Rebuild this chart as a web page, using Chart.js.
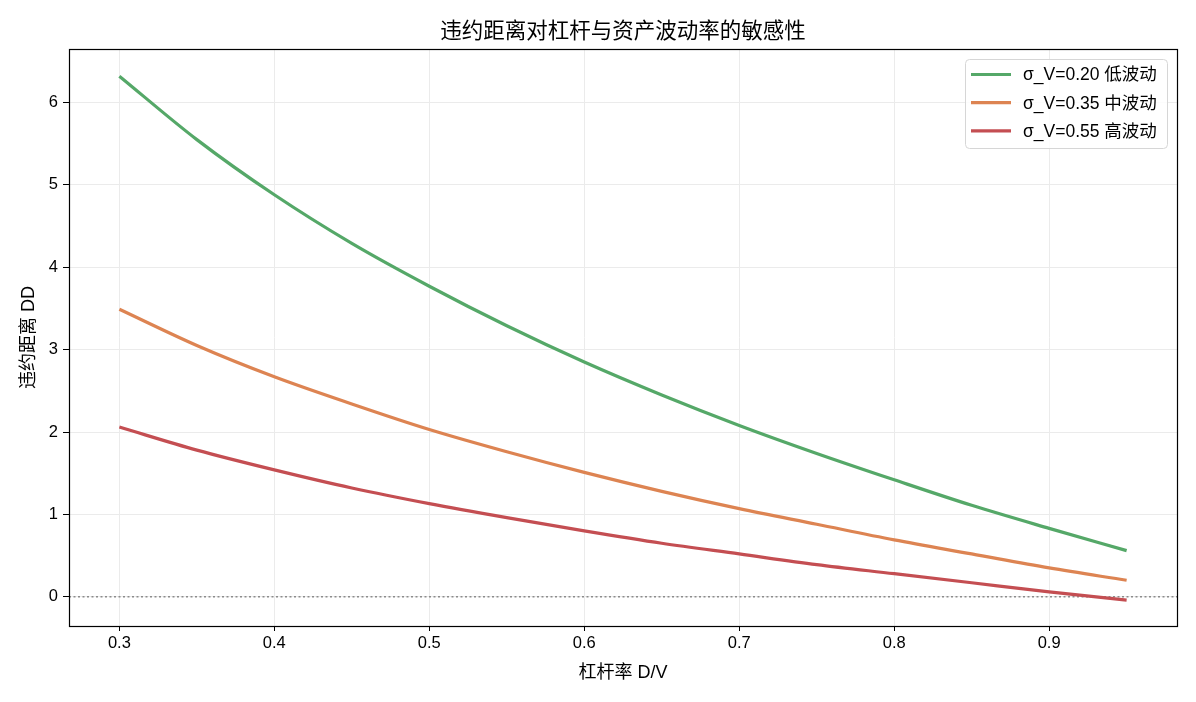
<!DOCTYPE html>
<html>
<head>
<meta charset="utf-8">
<script src="https://cdn.jsdelivr.net/npm/chart.js@4"></script>
<style>
  html, body { margin: 0; padding: 0; background: #fff; }
  #wrap { width: 1196px; height: 702px; }
</style>
</head>
<body>
<div id="wrap"><canvas id="ddChart"></canvas></div>
<script>
// data
const leverage = [0.30, 0.35, 0.40, 0.45, 0.50, 0.55, 0.60, 0.65, 0.70, 0.75, 0.80, 0.85, 0.90, 0.95];
const ddLow  = [6.32, 5.55, 4.88, 4.29, 3.77, 3.29, 2.85, 2.45, 2.08, 1.74, 1.42, 1.11, 0.83, 0.56];
const ddMid  = [3.49, 3.05, 2.67, 2.34, 2.03, 1.76, 1.51, 1.28, 1.07, 0.88, 0.69, 0.52, 0.35, 0.20];
const ddHigh = [2.06, 1.78, 1.54, 1.32, 1.13, 0.96, 0.80, 0.65, 0.52, 0.39, 0.28, 0.17, 0.06, -0.04];
const seriesLabels = ['σ_V=0.20 低波动', 'σ_V=0.35 中波动', 'σ_V=0.55 高波动'];
const seriesColors = ['#55a868', '#dd8452', '#c44e52'];
const xTicks = [0.3, 0.4, 0.5, 0.6, 0.7, 0.8, 0.9];
const yTicks = [0, 1, 2, 3, 4, 5, 6];
const titleText = '违约距离对杠杆与资产波动率的敏感性';
const xTitle = '杠杆率 D/V';
const yTitle = '违约距离 DD';

const FONT = '"Liberation Sans", Arial, "Noto Sans CJK SC", sans-serif';

const toPoints = vals => vals.map((v, i) => ({ x: leverage[i], y: v }));

const frame = {
    id: 'frame',
    beforeDatasetsDraw(chart) {
        const { ctx, chartArea: a, scales } = chart;
        const y0 = scales.y.getPixelForValue(0);
        ctx.save();
        ctx.strokeStyle = '#8c8c8c';
        ctx.lineWidth = 1.3;
        ctx.setLineDash([2, 2.5]);
        ctx.beginPath();
        ctx.moveTo(a.left, y0);
        ctx.lineTo(a.right, y0);
        ctx.stroke();
        ctx.restore();
    },
    afterDraw(chart) {
        const { ctx, chartArea: a } = chart;
        ctx.save();
        // axes box
        ctx.strokeStyle = '#000';
        ctx.lineWidth = 1.2;
        ctx.strokeRect(a.left + 0.5, a.top + 0.5, a.right - a.left, a.bottom - a.top);

        // title
        ctx.fillStyle = '#000';
        ctx.font = '21.5px ' + FONT;
        ctx.textAlign = 'center';
        ctx.textBaseline = 'middle';
        ctx.fillText(titleText, (a.left + a.right) / 2, 32);

        // legend inside the plot, upper right
        ctx.font = '17.5px ' + FONT;
        const lw = 202, lh = 89;
        const lx = a.right - 10 - lw, ly = a.top + 10;
        ctx.fillStyle = 'rgba(255,255,255,0.85)';
        ctx.strokeStyle = '#d6d6d6';
        ctx.lineWidth = 1;
        ctx.beginPath();
        ctx.roundRect(lx + 0.5, ly + 0.5, lw, lh, 4);
        ctx.fill();
        ctx.stroke();
        chart.data.datasets.forEach((ds, i) => {
            const cy = ly + 15.5 + i * 28.2;
            ctx.strokeStyle = ds.borderColor;
            ctx.lineWidth = 3.2;
            ctx.beginPath();
            ctx.moveTo(lx + 6, cy);
            ctx.lineTo(lx + 46, cy);
            ctx.stroke();
            ctx.fillStyle = '#000';
            ctx.textAlign = 'left';
            ctx.fillText(ds.label, lx + 58, cy + 1);
        });
        ctx.restore();
    }
};

new Chart(document.getElementById('ddChart'), {
    type: 'line',
    data: {
        datasets: [ddLow, ddMid, ddHigh].map((vals, i) => ({
            label: seriesLabels[i],
            data: toPoints(vals),
            borderColor: seriesColors[i],
            backgroundColor: seriesColors[i],
            borderWidth: 3.2,
            pointRadius: 0,
            cubicInterpolationMode: 'monotone',
            fill: false
        }))
    },
    options: {
        responsive: true,
        maintainAspectRatio: false,
        animation: false,
        layout: { padding: { top: 49, right: 19, left: 0, bottom: 0 } },
        plugins: {
            legend: { display: false },
            title: { display: false },
            tooltip: { enabled: false }
        },
        scales: {
            x: {
                type: 'linear',
                min: 0.2675,
                max: 0.9825,
                afterBuildTicks: axis => { axis.ticks = xTicks.map(v => ({ value: v })); },
                afterFit: scale => { scale.height = 76; },
                grid: { color: '#ebebeb', tickColor: '#000', tickLength: 5 },
                border: { display: false },
                ticks: {
                    color: '#000',
                    font: { family: FONT, size: 16.5 },
                    padding: 3,
                    maxRotation: 0,
                    callback: v => v.toFixed(1)
                },
                title: {
                    display: true,
                    text: xTitle,
                    color: '#000',
                    font: { family: FONT, size: 18 },
                    padding: { top: 0, bottom: 18 }
                }
            },
            y: {
                type: 'linear',
                min: -0.355,
                max: 6.65,
                afterBuildTicks: axis => { axis.ticks = yTicks.map(v => ({ value: v })); },
                afterFit: scale => { scale.width = 69; },
                grid: { color: '#ebebeb', tickColor: '#000', tickLength: 6 },
                border: { display: false },
                ticks: {
                    color: '#000',
                    font: { family: FONT, size: 16.5 },
                    padding: 5
                },
                title: {
                    display: true,
                    text: yTitle,
                    color: '#000',
                    font: { family: FONT, size: 18 },
                    padding: { top: 18, bottom: 0 }
                }
            }
        }
    },
    plugins: [frame]
});
</script>
</body>
</html>
